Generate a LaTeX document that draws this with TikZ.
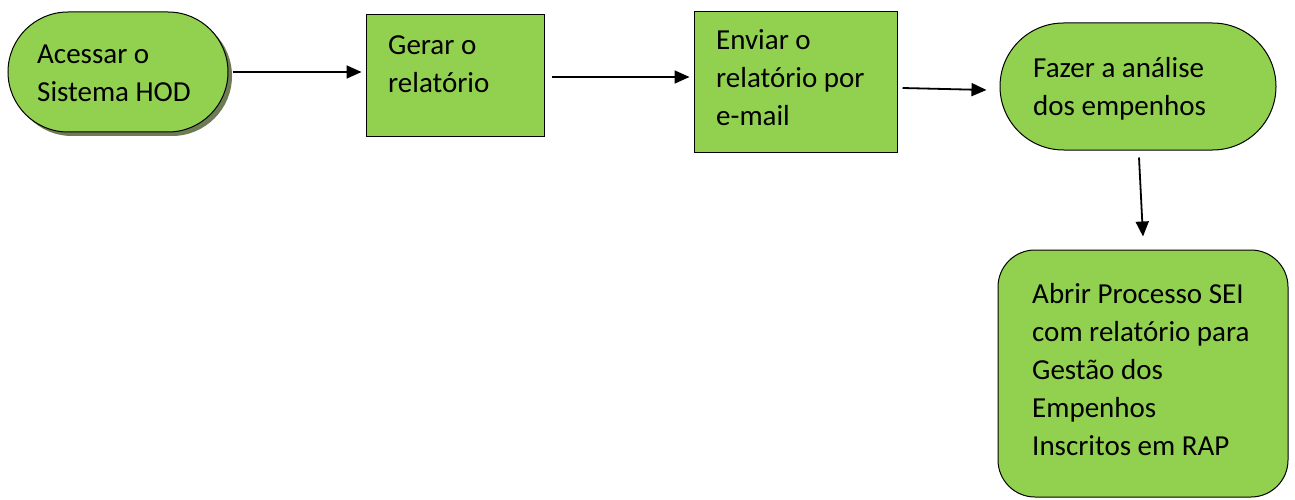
\documentclass[tikz,border=0pt]{standalone}
\usepackage{fontspec}
\setmainfont{Carlito}
\usetikzlibrary{shapes.misc,arrows.meta,shadows}
\definecolor{boxgreen}{HTML}{92D050}
\definecolor{shadowc}{RGB}{110,124,86}
\tikzset{
  stepbase/.style={draw=black, line width=1pt, fill=boxgreen, inner sep=0pt},
  stadium/.style={stepbase, rounded rectangle},
  rectbox/.style={stepbase, rectangle},
  roundbox/.style={stepbase, rectangle, rounded corners=37pt},
  txt/.style={anchor=base west, inner sep=0pt, font=\fontsize{29}{38}\selectfont},
  conn/.style={line width=1.8pt, -{Triangle[length=15pt,width=13pt]}}
}
\begin{document}
\begin{tikzpicture}[x=1pt,y=-1pt]
\useasboundingbox (0,0) rectangle (1295,500);
% shapes
\node[stadium, minimum width=220pt, minimum height=120pt,
      drop shadow={shadow xshift=4pt, shadow yshift=-4pt, fill=shadowc, opacity=1}]
      (A) at (118,72) {};
\node[rectbox, minimum width=178pt, minimum height=122pt] (B) at (455,76) {};
\node[rectbox, minimum width=203pt, minimum height=140pt] (C) at (795.5,82) {};
\node[stadium, minimum width=276pt, minimum height=127pt] (D) at (1138,86.5) {};
\node[roundbox, minimum width=290pt, minimum height=247pt] (E) at (1143,373.5) {};
% texts
\node[txt] (tA) at (37,64) {\vtop{\hbox{Acessar o}\hbox{Sistema HOD}}};
\node[txt] (tB) at (388,55) {\vtop{\hbox{Gerar o}\hbox{relatório}}};
\node[txt] (tC) at (716,50) {\vtop{\hbox{Enviar o}\hbox{relatório por}\hbox{e-mail}}};
\node[txt] (tD) at (1033,78) {\vtop{\hbox{Fazer a análise}\hbox{dos empenhos}}};
\node[txt] (tE) at (1032,303) {\vtop{\hbox{Abrir Processo SEI}\hbox{com relatório para}\hbox{Gestão dos}\hbox{Empenhos}\hbox{Inscritos em RAP}}};
% connectors
\draw[conn] ([shift={(4,0)}]A.east) -- ([shift={(-4,0)}]A.east -| B.west);
\draw[conn] ([shift={(7,1)}]B.east) -- ([shift={(-4,1)}]B.east -| C.west);
\draw[conn] ([shift={(5,6)}]C.east) -- ([shift={(-13,3.5)}]D.west);
\draw[conn] ([shift={(1,7)}]D.south) -- ([shift={(0,-13)}]E.north);
\end{tikzpicture}
\end{document}
